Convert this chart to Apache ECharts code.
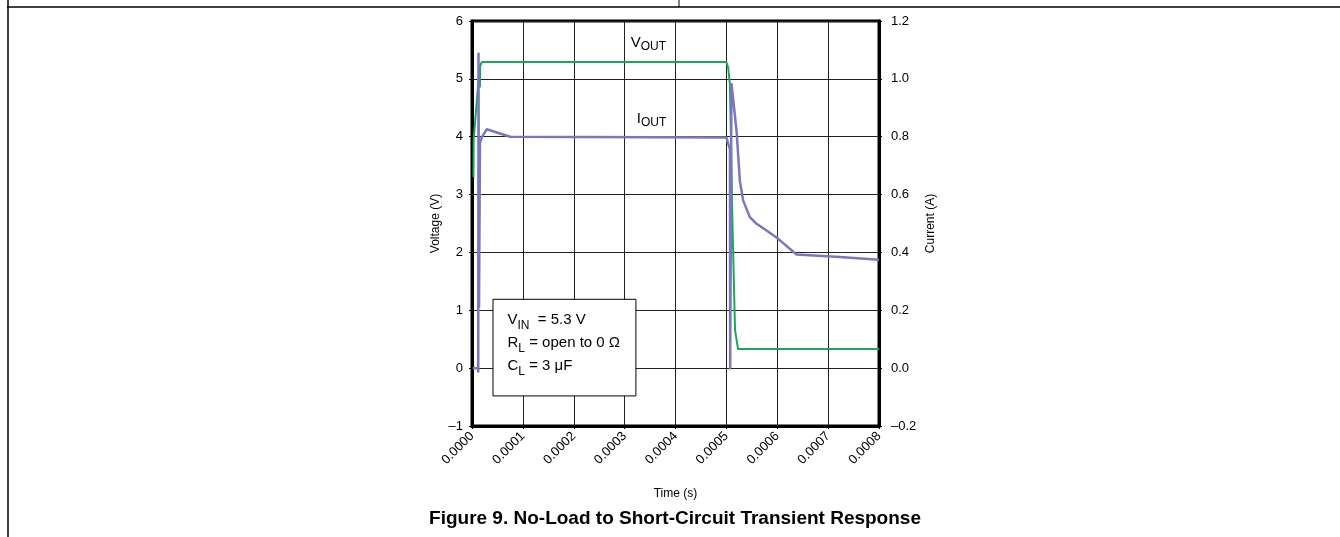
<!DOCTYPE html>
<html>
<head>
<meta charset="utf-8">
<script src="https://cdn.jsdelivr.net/npm/echarts@6/dist/echarts.min.js"></script>
<style>
  html, body { margin: 0; padding: 0; background: #fff; }
  #chart { width: 1340px; height: 537px; }
</style>
</head>
<body>
<div id="chart"></div>
<script>
// time (s) and output voltage (V)
const voutTime = [0.0000029, 0.0000033, 0.0000150, 0.0000156, 0.0000160, 0.0000190, 0.000500, 0.0005035, 0.000507, 0.000512, 0.000517, 0.000523, 0.000800];
const voutVals = [3.30, 3.95, 5.22, 4.85, 5.22, 5.29, 5.29, 5.20, 4.90, 2.50, 0.66, 0.33, 0.33];

// time (s) and output current (A)
const ioutTime = [0.0000015, 0.0000120, 0.0000123, 0.0000128, 0.0000138, 0.0000157, 0.000020, 0.000029, 0.000075, 0.000500, 0.000507, 0.0005075, 0.000510, 0.0005125, 0.000520, 0.0005265, 0.000533, 0.0005462, 0.0005593, 0.000579, 0.0006018, 0.0006379, 0.000723, 0.000800];
const ioutVals = [0.000, 0.000, -0.015, 1.090, 0.210, 0.780, 0.800, 0.826, 0.800, 0.797, 0.757, -0.005, 0.985, 0.980, 0.820, 0.648, 0.579, 0.522, 0.499, 0.476, 0.447, 0.393, 0.384, 0.375];

const timeTicks = [0, 0.0001, 0.0002, 0.0003, 0.0004, 0.0005, 0.0006, 0.0007, 0.0008];
const voltTicks = [-1, 0, 1, 2, 3, 4, 5, 6];
const currTicks = [-0.2, 0.0, 0.2, 0.4, 0.6, 0.8, 1.0, 1.2];

const FONT = '"Liberation Sans", Arial, Helvetica, sans-serif';
const GREEN = '#19a85a';
const PURPLE = '#7a77bc';

const dash = (s) => s.replace('-', '\u2013');

const chart = echarts.init(document.getElementById('chart'));

const option = {
    backgroundColor: '#fff',
    animation: false,
    textStyle: { fontFamily: FONT, color: '#000' },
    grid: {
        left: 472, right: 461, top: 21, bottom: 111,
        show: true, borderColor: '#000', borderWidth: 3, backgroundColor: 'transparent'
    },
    xAxis: {
        type: 'value',
        min: timeTicks[0], max: timeTicks[timeTicks.length - 1], interval: 0.0001,
        name: 'Time (s)', nameLocation: 'middle', nameGap: 62,
        nameTextStyle: { fontSize: 12, fontFamily: FONT, color: '#000' },
        axisLine: { show: true, onZero: false, lineStyle: { color: '#000', width: 3 } },
        axisTick: { show: true, length: 3, lineStyle: { color: '#000' } },
        axisLabel: {
            rotate: 45, margin: 8, fontSize: 13, color: '#000', fontFamily: FONT,
            formatter: (v) => v.toFixed(4), showMaxLabel: true, showMinLabel: true
        },
        splitLine: { show: true, lineStyle: { color: '#222', width: 1 } }
    },
    yAxis: [
        {
            type: 'value', position: 'left',
            min: voltTicks[0], max: voltTicks[voltTicks.length - 1], interval: 1,
            name: 'Voltage (V)', nameLocation: 'middle', nameGap: 30, nameRotate: 90,
            nameTextStyle: { fontSize: 12, fontFamily: FONT, color: '#000' },
            axisLine: { show: true, onZero: false, lineStyle: { color: '#000', width: 3 } },
            axisTick: { show: true, length: 3, lineStyle: { color: '#000' } },
            axisLabel: { fontSize: 13, color: '#000', margin: 9, fontFamily: FONT,
                formatter: (v) => dash(String(v)) },
            splitLine: { show: true, lineStyle: { color: '#222', width: 1 } }
        },
        {
            type: 'value', position: 'right',
            min: currTicks[0], max: currTicks[currTicks.length - 1], interval: 0.2,
            name: 'Current (A)', nameLocation: 'middle', nameGap: 46, nameRotate: 90,
            nameTextStyle: { fontSize: 12, fontFamily: FONT, color: '#000' },
            axisLine: { show: true, onZero: false, lineStyle: { color: '#000', width: 3 } },
            axisTick: { show: true, length: 3, lineStyle: { color: '#000' } },
            axisLabel: { fontSize: 13, color: '#000', margin: 12, fontFamily: FONT,
                formatter: (v) => dash(v.toFixed(1)) },
            splitLine: { show: false }
        }
    ],
    series: [
        {
            name: 'VOUT', type: 'line', yAxisIndex: 0,
            data: voutTime.map((t, i) => [t, voutVals[i]]),
            showSymbol: false, symbol: 'none',
            lineStyle: { color: GREEN, width: 2 },
            z: 3,
            markPoint: {
                symbol: 'circle', symbolSize: 0, silent: true,
                label: {
                    show: true, position: 'right', distance: 0,
                    formatter: '{n|V}{s|OUT}',
                    rich: {
                        n: { fontSize: 15, fontFamily: FONT, color: '#000', lineHeight: 20 },
                        s: { fontSize: 12, fontFamily: FONT, color: '#000', verticalAlign: 'bottom', lineHeight: 12 }
                    }
                },
                data: [{ coord: [0.000312, 5.62] }]
            },
            markArea: {
                silent: true,
                itemStyle: { color: '#fff', borderColor: '#000', borderWidth: 1 },
                label: {
                    show: true, position: [15, 10],
                    formatter: '{n|V}{s|IN}{n|  = 5.3 V}\n{n|R}{s|L}{n| = open to 0 \u03a9}\n{n|C}{s|L}{n| = 3 \u03bcF}',
                    rich: {
                        n: { fontSize: 15, fontFamily: FONT, color: '#000', lineHeight: 23 },
                        s: { fontSize: 12, fontFamily: FONT, color: '#000', verticalAlign: 'bottom', lineHeight: 15 }
                    }
                },
                data: [[{ coord: [0.0000413, 1.19] }, { coord: [0.0003222, -0.48] }]]
            }
        },
        {
            name: 'IOUT', type: 'line', yAxisIndex: 1,
            data: ioutTime.map((t, i) => [t, ioutVals[i]]),
            showSymbol: false, symbol: 'none',
            lineStyle: { color: PURPLE, width: 2.5 },
            z: 4,
            markPoint: {
                symbol: 'circle', symbolSize: 0, silent: true,
                label: {
                    show: true, position: 'right', distance: 0,
                    formatter: '{n|I}{s|OUT}',
                    rich: {
                        n: { fontSize: 15, fontFamily: FONT, color: '#000', lineHeight: 20 },
                        s: { fontSize: 12, fontFamily: FONT, color: '#000', verticalAlign: 'bottom', lineHeight: 12 }
                    }
                },
                data: [{ coord: [0.000324, 0.862] }]
            }
        }
    ],
    graphic: [
        { type: 'line', shape: { x1: 7, y1: 7, x2: 1340, y2: 7 }, style: { stroke: '#000', lineWidth: 1.5 } },
        { type: 'line', shape: { x1: 8, y1: 0, x2: 8, y2: 537 }, style: { stroke: '#000', lineWidth: 1.5 } },
        { type: 'line', shape: { x1: 679, y1: 0, x2: 679, y2: 7 }, style: { stroke: '#000', lineWidth: 1 } },
        {
            type: 'text', x: 675, y: 509,
            style: {
                text: 'Figure 9. No-Load to Short-Circuit Transient Response',
                font: 'bold 19px ' + FONT, fill: '#000', textAlign: 'center', textVerticalAlign: 'top'
            }
        }
    ]
};

chart.setOption(option);
</script>
</body>
</html>
